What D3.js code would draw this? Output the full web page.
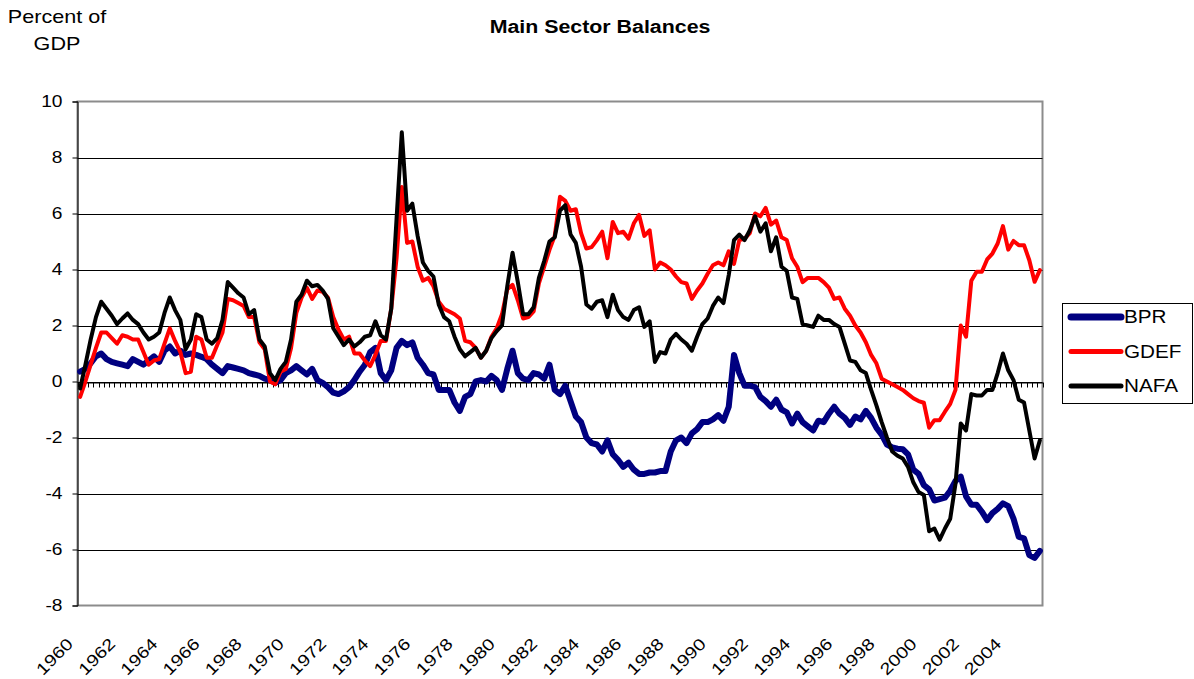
<!DOCTYPE html>
<html>
<head>
<meta charset="utf-8" />
<title>Main Sector Balances</title>
<style>
  body { margin: 0; background: #fff; }
  text { font-family: "Liberation Sans", Arial, sans-serif; fill: #000; }
</style>
</head>
<body>
<svg id="chart" width="1194" height="679"></svg>

<script src="https://cdn.jsdelivr.net/npm/d3@7"></script>
<script>
// quarterly data, 1960Q1 .. 2005Q3 (percent of GDP)
var tickYears = ["1960","1962","1964","1966","1968","1970","1972","1974","1976","1978","1980","1982",
  "1984","1986","1988","1990","1992","1994","1996","1998","2000","2002","2004"];
var yTicks = [10, 8, 6, 4, 2, 0, -2, -4, -6, -8];
var seriesNames = ["BPR", "GDEF", "NAFA"];

var bpr = [
  0.35,0.45,0.65,0.9, 1.0,0.8,0.7,0.65, 0.6,0.55,0.8,0.7, 0.6,0.75,0.9,0.7,
  1.1,1.25,1.0,1.1, 0.95,1.0,0.95,0.88, 0.8,0.6,0.45,0.3, 0.55,0.5,0.45,0.4,
  0.3,0.25,0.2,0.1, 0.05,-0.05,0.05,0.3, 0.4,0.55,0.4,0.25, 0.45,0.05,-0.05,-0.2,
  -0.4,-0.45,-0.35,-0.2, 0.05,0.35,0.6,1.05, 1.2,0.3,0.05,0.4, 1.2,1.45,1.3,1.4,
  0.85,0.6,0.3,0.25, -0.3,-0.3,-0.3,-0.75, -1.05,-0.55,-0.45,0.0, 0.05,0.0,0.2,0.05,
  -0.3,0.45,1.1,0.3, 0.1,0.05,0.3,0.25, 0.1,0.6,-0.3,-0.45, -0.15,-0.7,-1.25,-1.45,
  -2.0,-2.2,-2.25,-2.5, -2.1,-2.6,-2.8,-3.05, -2.9,-3.15,-3.3,-3.3, -3.25,-3.25,-3.2,-3.2,
  -2.5,-2.1,-2.0,-2.2, -1.85,-1.7,-1.45,-1.45, -1.35,-1.2,-1.4,-0.9, 0.95,0.3,-0.15,-0.15,
  -0.2,-0.55,-0.7,-0.9, -0.65,-1.0,-1.1,-1.5, -1.15,-1.45,-1.6,-1.75, -1.4,-1.45,-1.15,-0.9,
  -1.15,-1.3,-1.55,-1.25, -1.35,-1.05,-1.3,-1.65, -1.9,-2.25,-2.35,-2.4, -2.42,-2.6,-3.15,-3.3,
  -3.7,-3.85,-4.25,-4.2, -4.15,-3.9,-3.55,-3.4, -4.1,-4.4,-4.4,-4.65, -4.95,-4.7,-4.55,-4.35,
  -4.45,-4.9,-5.55,-5.6, -6.2,-6.3,-6.05
];

var gdef = [
  -0.55,0.0,0.6,1.2, 1.75,1.75,1.55,1.35, 1.65,1.6,1.5,1.5, 1.05,0.6,0.75,0.8,
  1.35,1.9,1.45,1.05, 0.3,0.35,1.6,1.5, 0.85,0.85,1.3,1.75, 2.95,2.9,2.8,2.7,
  2.3,2.3,1.4,1.15, 0.0,-0.1,0.35,0.45, 1.2,2.45,3.0,3.35, 2.95,3.25,3.2,3.0,
  2.3,1.85,1.5,1.6, 1.0,1.0,0.75,0.55, 0.95,1.45,1.45,2.6, 4.4,6.95,4.95,5.0,
  4.1,3.6,3.7,3.4, 2.85,2.6,2.5,2.4, 2.25,1.45,1.4,1.2, 0.85,1.1,1.6,1.9,
  2.4,3.3,3.45,2.9, 2.25,2.3,2.5,3.5, 4.1,4.7,5.2,6.6, 6.45,6.1,6.15,5.3,
  4.75,4.8,5.05,5.35, 4.4,5.7,5.3,5.35, 5.1,5.65,5.95,5.2, 5.4,4.0,4.25,4.15,
  4.0,3.75,3.55,3.5, 2.95,3.25,3.5,3.85, 4.15,4.25,4.15,4.65, 4.2,5.05,5.1,5.3,
  6.0,5.9,6.2,5.6, 5.75,5.15,5.05,4.4, 4.1,3.55,3.7,3.7, 3.7,3.55,3.35,2.95,
  3.0,2.6,2.35,2.0, 1.75,1.4,0.95,0.65, 0.1,0.0,-0.1,-0.2, -0.3,-0.45,-0.6,-0.7,
  -0.76,-1.65,-1.38,-1.38, -1.08,-0.8,-0.3,2.0, 1.6,3.6,3.92,3.92, 4.36,4.57,4.93,5.55,
  4.71,5.02,4.87,4.87, 4.33,3.56,3.98
];

var nafa = [
  -0.25,0.6,1.5,2.3, 2.85,2.6,2.35,2.05, 2.25,2.43,2.2,2.05, 1.75,1.5,1.6,1.75,
  2.45,3.0,2.55,2.2, 1.15,1.5,2.4,2.3, 1.5,1.35,1.55,2.2, 3.55,3.35,3.15,3.0,
  2.4,2.55,1.5,1.25, 0.3,0.05,0.45,0.7, 1.5,2.85,3.1,3.6, 3.4,3.45,3.25,2.95,
  1.9,1.6,1.3,1.5, 1.25,1.4,1.6,1.65, 2.15,1.65,1.5,2.6, 5.8,8.9,6.1,6.35,
  5.2,4.25,3.95,3.75, 2.75,2.3,2.15,1.6, 1.15,0.9,1.05,1.2, 0.85,1.1,1.55,1.8,
  2.0,3.4,4.6,3.55, 2.4,2.4,2.65,3.7, 4.3,5.0,5.15,6.1, 6.3,5.25,4.95,4.1,
  2.75,2.6,2.85,2.9, 2.3,3.1,2.55,2.3, 2.2,2.55,2.65,1.95, 2.15,0.7,1.05,1.0,
  1.5,1.7,1.5,1.35, 1.1,1.6,2.05,2.25, 2.7,3.0,2.8,3.8, 5.05,5.25,5.05,5.4,
  5.9,5.35,5.65,4.65, 5.15,4.1,3.95,3.0, 2.95,2.05,2.0,1.95, 2.35,2.2,2.2,2.05,
  1.95,1.35,0.75,0.7, 0.4,0.3,-0.3,-0.85, -1.45,-2.0,-2.5,-2.65, -2.75,-3.05,-3.6,-3.95,
  -4.05,-5.35,-5.25,-5.65, -5.25,-4.9,-3.65,-1.5, -1.75,-0.45,-0.5,-0.5, -0.3,-0.3,0.3,1.0,
  0.4,0.05,-0.65,-0.75, -1.75,-2.75,-2.1
];

// category labels 1960Q1 ...
var quarters = [];
for (var k = 0; k < bpr.length; k++) {
  quarters.push((1960 + Math.floor(k / 4)) + "Q" + (k % 4 + 1));
}

var svg = d3.select("#chart");
var plot = {left: 77.5, right: 1042.5, top: 101.5, bottom: 605.5};

var x = d3.scaleBand()
  .domain(quarters)
  .range([plot.left, plot.right])
  .paddingInner(0).paddingOuter(0);

var y = d3.scaleLinear()
  .domain([-8, 10])
  .range([plot.bottom, plot.top]);

function cx(q) { return x(q) + x.bandwidth() / 2; }

// plot area frame
svg.append("rect")
  .attr("x", plot.left).attr("y", plot.top)
  .attr("width", plot.right - plot.left)
  .attr("height", plot.bottom - plot.top)
  .attr("fill", "none")
  .attr("stroke", "#8c8c8c")
  .attr("stroke-width", 2);

// gridlines
svg.append("g").selectAll("line")
  .data(yTicks.filter(function(d){ return d != 10 && d != -8; }))
  .enter().append("line")
  .attr("x1", plot.left).attr("x2", plot.right)
  .attr("y1", function(d){ return Math.round(y(d)) + 0.5; })
  .attr("y2", function(d){ return Math.round(y(d)) + 0.5; })
  .attr("stroke", "#000")
  .attr("stroke-width", 1);

// value axis
var yAxis = d3.axisLeft(y)
  .tickValues(yTicks)
  .tickFormat(function(d){ return String(d); })
  .tickSize(5)
  .tickPadding(10);

var yg = svg.append("g")
  .attr("transform", "translate(" + plot.left + ",0)")
  .call(yAxis);
yg.select(".domain").attr("stroke", "#000");
yg.selectAll(".tick line").attr("stroke", "#000");
yg.selectAll(".tick text")
  .attr("font-size", 16)
  .attr("font-family", "Liberation Sans, Arial, sans-serif")
  .attr("transform", function(){
    var tx = d3.select(this).attr("x");
    return "translate(" + tx + ",0) scale(1.2,1)";
  })
  .attr("x", 0);

// category axis on the zero line
var xAxis = d3.axisBottom(x)
  .tickValues([])
  .tickSize(0);
var xg = svg.append("g")
  .attr("transform", "translate(0," + (Math.round(y(0)) + 0.5) + ")")
  .call(xAxis);
xg.select(".domain").attr("stroke", "#000");

// hatch ticks at category boundaries
var bounds = quarters.map(function(q){ return x(q); }).concat([plot.right]);
xg.selectAll("line.hatch")
  .data(bounds)
  .enter().append("line")
  .attr("class", "hatch")
  .attr("x1", function(d){ return Math.round(d) + 0.5; })
  .attr("x2", function(d){ return Math.round(d) + 0.5; })
  .attr("y1", 0).attr("y2", 5)
  .attr("stroke", "#000")
  .attr("stroke-width", 1);

// year labels every 8 quarters
svg.append("g").selectAll("text")
  .data(tickYears)
  .enter().append("text")
  .attr("text-anchor", "end")
  .attr("font-size", 16.5)
  .attr("transform", function(d){
    return "translate(" + (cx(d + "Q1") - 6) + "," + 645 + ") rotate(-45) scale(1.2,1)";
  })
  .text(function(d){ return d; });

// series
var colors = {BPR: "#000080", GDEF: "#ff0000", NAFA: "#000000"};
var widths = {BPR: 6, GDEF: 4, NAFA: 4};
var values = {BPR: bpr, GDEF: gdef, NAFA: nafa};

var line = d3.line()
  .x(function(d, i){ return cx(quarters[i]); })
  .y(function(d){ return y(d); });

seriesNames.forEach(function(name){
  svg.append("path")
    .datum(values[name])
    .attr("fill", "none")
    .attr("stroke", colors[name])
    .attr("stroke-width", widths[name])
    .attr("stroke-linejoin", "round")
    .attr("stroke-linecap", "round")
    .attr("d", line);
});

// titles
svg.append("text")
  .attr("transform", "translate(600,33) scale(1.2,1)")
  .attr("text-anchor", "middle")
  .attr("font-size", 17.8)
  .attr("font-weight", "bold")
  .text("Main Sector Balances");

svg.append("text")
  .attr("transform", "translate(57,23) scale(1.2,1)")
  .attr("text-anchor", "middle")
  .attr("font-size", 18)
  .text("Percent of");
svg.append("text")
  .attr("transform", "translate(57,50) scale(1.2,1)")
  .attr("text-anchor", "middle")
  .attr("font-size", 18)
  .text("GDP");

// legend
var legend = svg.append("g");
legend.append("rect")
  .attr("x", 1062.5).attr("y", 303.5)
  .attr("width", 130).attr("height", 100)
  .attr("fill", "#fff")
  .attr("stroke", "#000")
  .attr("stroke-width", 1);

var items = legend.selectAll("g.item")
  .data(seriesNames)
  .enter().append("g")
  .attr("transform", function(d, i){ return "translate(1069," + (317 + i * 34.5) + ")"; });
items.append("line")
  .attr("x1", 2).attr("x2", 52)
  .attr("stroke", function(d){ return colors[d]; })
  .attr("stroke-width", function(d){ return d == "BPR" ? 7 : 5; })
  .attr("stroke-linecap", "round");
items.append("text")
  .attr("transform", "translate(55,0) scale(1.15,1)")
  .attr("dy", "0.36em")
  .attr("font-size", 18)
  .text(function(d){ return d; });
</script>
</body>
</html>
